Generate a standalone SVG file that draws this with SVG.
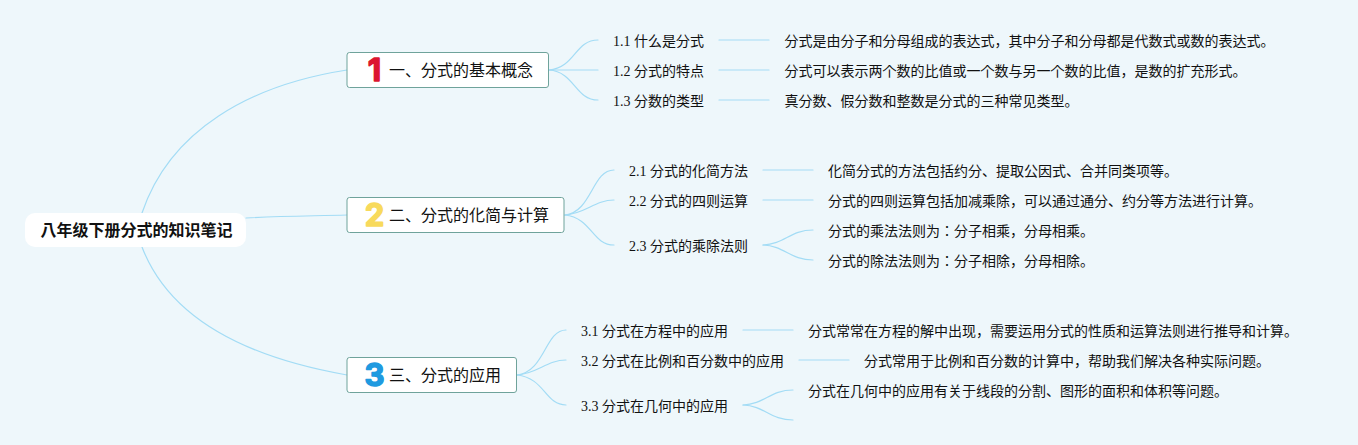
<svg xmlns="http://www.w3.org/2000/svg" width="1358" height="445" viewBox="0 0 1358 445">
<style>
text{font-family:"Liberation Serif","Noto Sans CJK JP",serif;fill:#111;font-size:14px}
.t{font-size:16px}
.r{font-size:16px;font-weight:700;fill:#111}
.n{font-family:"Inter","Liberation Sans",sans-serif;font-size:31px;font-weight:700;text-anchor:middle;stroke-width:1.500;stroke-linejoin:round}
.b{fill:#fff;stroke:#6fa39b;stroke-width:1}
path{fill:none;stroke:#a3dcf5;stroke-width:1.200;stroke-linecap:round}
</style>
<rect width="1358" height="445" fill="#eef7fb"/>
<g id="connectors">
<path d="M142 213C170 130 250 85 347 70"/>
<path d="M246 218C280 216 310 216 347 215"/>
<path d="M142 247C170 320 250 358 347 375"/>
<path d="M549 70C575 68 575 40 598 40"/>
<path d="M549 70H598"/>
<path d="M549 70C575 72 575 100 598 100"/>
<path d="M719 40H769"/><path d="M719 70H769"/><path d="M719 100H769"/>
<path d="M565 215C592 212 592 170 614 170"/>
<path d="M565 215C585 214 595 200 614 200"/>
<path d="M565 215C592 218 592 245 614 245"/>
<path d="M763 170H813"/><path d="M763 200H813"/>
<path d="M763 245C785 244 790 230 813 230"/>
<path d="M763 245C785 246 790 260 813 260"/>
<path d="M517 375C545 372 545 330 566 330"/>
<path d="M517 375C537 374 547 360 566 360"/>
<path d="M517 375C545 378 545 405 566 405"/>
<path d="M743 330H793"/><path d="M799 360H849"/>
<path d="M743 405C765 404 770 390 793 390"/>
<path d="M743 405C765 406 770 420 793 420"/>
</g>
<g id="root"><rect x="25" y="213" width="221" height="34" rx="10" fill="#fff"/><text class="r" x="40.500" y="236">八年级下册分式的知识笔记</text></g>
<g id="n1"><rect class="b" x="347" y="52.500" width="201.500" height="35" rx="2.500"/><text class="n" x="374.500" y="81" style="fill:#dc1530;stroke:#dc1530">1</text><text class="t" x="389" y="76">一、分式的基本概念</text></g>
<g id="n2"><rect class="b" x="347" y="197.500" width="217" height="35" rx="2.500"/><text class="n" x="374.500" y="226" style="fill:#f8da5c;stroke:#f8da5c">2</text><text class="t" x="389" y="221">二、分式的化简与计算</text></g>
<g id="n3"><rect class="b" x="347" y="357.500" width="169.500" height="35" rx="2.500"/><text class="n" x="374.500" y="386" style="fill:#1f9ae0;stroke:#1f9ae0">3</text><text class="t" x="389" y="381">三、分式的应用</text></g>
<g id="n11"><text x="613" y="46">1.1 什么是分式</text></g>
<g id="n12"><text x="613" y="76">1.2 分式的特点</text></g>
<g id="n13"><text x="613" y="106">1.3 分数的类型</text></g>
<g id="n111"><text x="784.500" y="46">分式是由分子和分母组成的表达式，其中分子和分母都是代数式或数的表达式。</text></g>
<g id="n121"><text x="784.500" y="76">分式可以表示两个数的比值或一个数与另一个数的比值，是数的扩充形式。</text></g>
<g id="n131"><text x="784.500" y="106">真分数、假分数和整数是分式的三种常见类型。</text></g>
<g id="n21"><text x="629" y="176">2.1 分式的化简方法</text></g>
<g id="n22"><text x="629" y="206">2.2 分式的四则运算</text></g>
<g id="n23"><text x="629" y="251">2.3 分式的乘除法则</text></g>
<g id="n211"><text x="828" y="176">化简分式的方法包括约分、提取公因式、合并同类项等。</text></g>
<g id="n221"><text x="828" y="206">分式的四则运算包括加减乘除，可以通过通分、约分等方法进行计算。</text></g>
<g id="n231"><text x="828" y="236">分式的乘法法则为：分子相乘，分母相乘。</text></g>
<g id="n232"><text x="828" y="266">分式的除法法则为：分子相除，分母相除。</text></g>
<g id="n31"><text x="581" y="336">3.1 分式在方程中的应用</text></g>
<g id="n32"><text x="581" y="366">3.2 分式在比例和百分数中的应用</text></g>
<g id="n33"><text x="581" y="411">3.3 分式在几何中的应用</text></g>
<g id="n311"><text x="808" y="336">分式常常在方程的解中出现，需要运用分式的性质和运算法则进行推导和计算。</text></g>
<g id="n321"><text x="864" y="366">分式常用于比例和百分数的计算中，帮助我们解决各种实际问题。</text></g>
<g id="n331"><text x="808" y="396">分式在几何中的应用有关于线段的分割、图形的面积和体积等问题。</text></g>
</svg>
